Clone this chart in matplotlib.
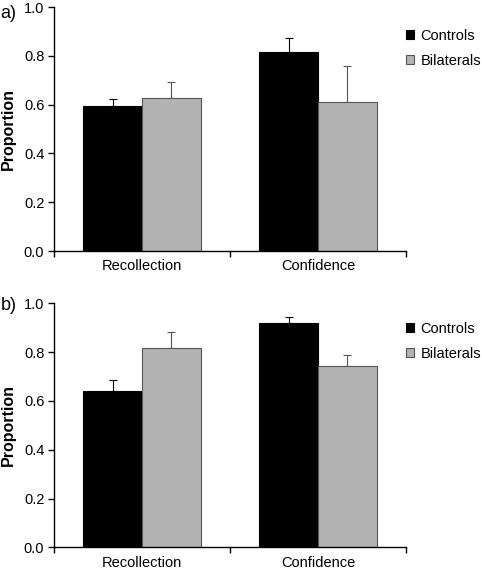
import numpy as np
import matplotlib
matplotlib.use("Agg")
import matplotlib.pyplot as plt

plt.rcParams['font.family'] = ['Liberation Sans', 'DejaVu Sans']

categories = ['Recollection', 'Confidence']
groups = ['Controls', 'Bilaterals']

# panel a
a_controls = [0.595, 0.816]
a_controls_err = [0.027, 0.058]
a_bilaterals = [0.626, 0.612]
a_bilaterals_err = [0.065, 0.148]

# panel b
b_controls = [0.641, 0.918]
b_controls_err = [0.043, 0.026]
b_bilaterals = [0.817, 0.742]
b_bilaterals_err = [0.064, 0.046]

yticks = [0.0, 0.2, 0.4, 0.6, 0.8, 1.0]

fig = plt.figure(figsize=(4.82, 5.70), dpi=100)


def draw_panel(rect, label, label_y, legend_y, ctrl, ctrl_err, bil, bil_err):
    ax = fig.add_axes(rect)
    x = np.arange(len(categories))
    w = 1 / 3
    ax.bar(x - w / 2, ctrl, w, color='black', edgecolor='black', linewidth=0.8,
           label=groups[0], zorder=2)
    ax.bar(x + w / 2, bil, w, color='#b3b3b3', edgecolor='#555555', linewidth=0.8,
           label=groups[1], zorder=2)
    # upper error bars only
    ax.errorbar(x - w / 2, ctrl, yerr=[np.zeros(len(ctrl)), ctrl_err], fmt='none',
                ecolor='black', elinewidth=0.8, capsize=3, capthick=0.8, zorder=1)
    ax.errorbar(x + w / 2, bil, yerr=[np.zeros(len(bil)), bil_err], fmt='none',
                ecolor='#555555', elinewidth=0.8, capsize=3, capthick=0.8, zorder=1)

    ax.set_xlim(-0.5, 1.5)
    ax.set_ylim(0, 1.0)
    ax.set_yticks(yticks)
    ax.set_yticklabels([f'{t:.1f}' for t in yticks], fontsize=10.5)
    ax.set_xticks(x)
    ax.set_xticklabels(categories, fontsize=10.5)
    ax.tick_params(axis='x', which='major', length=0, pad=6)
    ax.set_xticks([-0.5, 0.5, 1.5], minor=True)
    ax.tick_params(axis='x', which='minor', length=4, width=1, direction='out')
    ax.tick_params(axis='y', length=4, width=1, direction='out', pad=3)
    for s in ['top', 'right']:
        ax.spines[s].set_visible(False)
    ax.spines['left'].set_linewidth(1)
    ax.spines['bottom'].set_linewidth(1)
    ax.set_ylabel('Proportion', fontsize=11.5, fontweight='bold', labelpad=6)
    ax.text(-0.152, label_y, label, transform=ax.transAxes, fontsize=13,
            va='center', ha='left')
    ax.legend(loc='upper left', bbox_to_anchor=(1.0, legend_y), frameon=False,
              fontsize=10.5, handlelength=0.55, handleheight=0.55,
              handletextpad=0.45, labelspacing=0.75, borderaxespad=0,
              borderpad=0)
    return ax


draw_panel([0.112, 0.5596, 0.730, 0.428], 'a)', 0.972, 0.91,
           a_controls, a_controls_err, a_bilaterals, a_bilaterals_err)
draw_panel([0.112, 0.0398, 0.730, 0.428], 'b)', 0.99, 0.925,
           b_controls, b_controls_err, b_bilaterals, b_bilaterals_err)

fig.savefig('out.png', dpi=100)
